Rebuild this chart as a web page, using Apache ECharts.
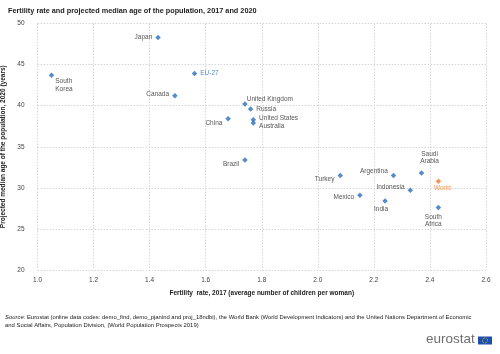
<!DOCTYPE html>
<html lang="en">
<head>
<meta charset="UTF-8">
<title>Fertility rate and projected median age</title>
<script src="https://cdn.jsdelivr.net/npm/echarts@6/dist/echarts.min.js"></script>
<style>
    html, body { margin: 0; padding: 0; background: #fff; }
    #main { width: 500px; height: 354px; }
</style>
</head>
<body>
<div id="main"></div>
<script>
// data
var countries = ['South Korea', 'Japan', 'EU-27', 'Canada', 'United Kingdom', 'Russia', 'United States', 'Australia',
    'China', 'Brazil', 'Turkey', 'Argentina', 'Saudi Arabia', 'World', 'Indonesia', 'Mexico', 'India', 'South Africa'];
var fertility = [1.05, 1.43, 1.56, 1.49, 1.74, 1.76, 1.77, 1.77, 1.68, 1.74, 2.08, 2.27, 2.37, 2.43, 2.33, 2.15, 2.24, 2.43];
var medianAge = [43.7, 48.3, 43.9, 41.2, 40.2, 39.6, 38.3, 37.9, 38.4, 33.4, 31.5, 31.5, 31.8, 30.8, 29.7, 29.1, 28.4, 27.6];
var xTicks = [1.0, 1.2, 1.4, 1.6, 1.8, 2.0, 2.2, 2.4, 2.6];
var yTicks = [20, 25, 30, 35, 40, 45, 50];

// where each label sits relative to its point
var labelPlace = {
    'South Korea': { position: 'right', offset: [-2, 10], text: 'South\nKorea' },
    'Japan': { position: 'left', offset: [0, 0] },
    'EU-27': { position: 'right', offset: [0, 0] },
    'Canada': { position: 'left', offset: [0, -2] },
    'United Kingdom': { position: 'right', offset: [-4, -5] },
    'Russia': { position: 'right', offset: [0, 0] },
    'United States': { position: 'right', offset: [0, -1] },
    'Australia': { position: 'right', offset: [0, 3] },
    'China': { position: 'left', offset: [0, 4] },
    'Brazil': { position: 'left', offset: [0, 4] },
    'Turkey': { position: 'left', offset: [0, 4] },
    'Argentina': { position: 'left', offset: [0, -4] },
    'Saudi Arabia': { position: 'top', offset: [8, -2], text: 'Saudi\nArabia' },
    'World': { position: 'bottom', offset: [4, -3] },
    'Indonesia': { position: 'left', offset: [0, -3] },
    'Mexico': { position: 'left', offset: [0, 2] },
    'India': { position: 'bottom', offset: [-4, -1] },
    'South Africa': { position: 'bottom', offset: [-5, 0], text: 'South\nAfrica' }
};

var BLUE = '#2a6ebb';
var ORANGE = '#f07c30';
var seriesData = [];
for (var i = 0; i < countries.length; i++) {
    var name = countries[i];
    var p = labelPlace[name];
    var col = name === 'World' ? ORANGE : BLUE;
    var txtCol = name === 'World' ? ORANGE : (name === 'EU-27' ? BLUE : '#2b2b2b');
    seriesData.push({
        name: name,
        value: [fertility[i], medianAge[i]],
        itemStyle: { color: col },
        label: {
            show: true,
            position: p.position,
            offset: p.offset,
            distance: 3,
            color: txtCol,
            fontSize: 6.5,
            lineHeight: 7.5,
            fontFamily: 'Liberation Sans',
            formatter: p.text || name
        }
    });
}

var myChart = echarts.init(document.getElementById('main'));
var gridStyle = { show: true, lineStyle: { color: '#d6d6d6', type: [1.5, 1.5], width: 1 } };

var option = {
    animation: false,
    textStyle: { fontFamily: 'Liberation Sans' },
    title: {
        text: 'Fertility rate and projected median age of the population, 2017 and 2020',
        left: 3,
        top: 2,
        textStyle: { fontSize: 7.3, fontWeight: 'bold', color: '#222', fontFamily: 'Liberation Sans' }
    },
    grid: { left: 37.5, right: 14, top: 23.5, bottom: 84, containLabel: false, outerBoundsMode: 'none' },
    xAxis: {
        type: 'value',
        min: xTicks[0],
        max: xTicks[xTicks.length - 1],
        interval: 0.2,
        axisLine: { show: false },
        axisTick: { show: false },
        splitLine: gridStyle,
        axisLabel: {
            fontSize: 6.5, color: '#444', margin: 7,
            formatter: function (v) { return v.toFixed(1); }
        },
        name: 'Fertility  rate, 2017 (average number of children per woman)',
        nameLocation: 'middle',
        nameGap: 20,
        nameTextStyle: { fontSize: 6.5, fontWeight: 'bold', color: '#222' }
    },
    yAxis: {
        type: 'value',
        min: yTicks[0],
        max: yTicks[yTicks.length - 1],
        interval: 5,
        axisLine: { show: false },
        axisTick: { show: false },
        splitLine: gridStyle,
        axisLabel: { fontSize: 6.5, color: '#444', margin: 13 },
        name: 'Projected median age of the population, 2020 (years)',
        nameLocation: 'middle',
        nameGap: 24,
        nameTextStyle: { fontSize: 6.5, fontWeight: 'bold', color: '#222' }
    },
    series: [{
        type: 'scatter',
        symbol: 'diamond',
        symbolSize: 5.5,
        data: seriesData
    }],
    graphic: [
        {
            type: 'text', left: 5, top: 313,
            style: {
                text: '{i|Source:} Eurostat (online data codes: demo_find, demo_pjanind and proj_18ndbi), the World Bank (World Development Indicators) and the United Nations Department of Economic\nand Social Affairs, Population Division, (World Population Prospects 2019)',
                fontSize: 5.9, lineHeight: 8, fill: '#222', fontFamily: 'Liberation Sans',
                rich: { i: { fontStyle: 'italic', fontSize: 5.9, fill: '#222' } }
            }
        },
        {
            type: 'text', left: 426, top: 332,
            style: { text: 'eurostat', fontSize: 13.5, fill: '#6e6e6e', fontFamily: 'Liberation Sans' }
        },
        {
            type: 'rect', shape: { x: 478, y: 336.5, width: 14, height: 8 },
            style: { fill: '#1c4fae' }
        },
        {
            type: 'circle', shape: { cx: 485, cy: 340.5, r: 2.6 },
            style: { fill: 'none', stroke: '#f2d230', lineWidth: 0.9, lineDash: [0.8, 0.8] }
        }
    ]
};

myChart.setOption(option);
</script>
</body>
</html>
